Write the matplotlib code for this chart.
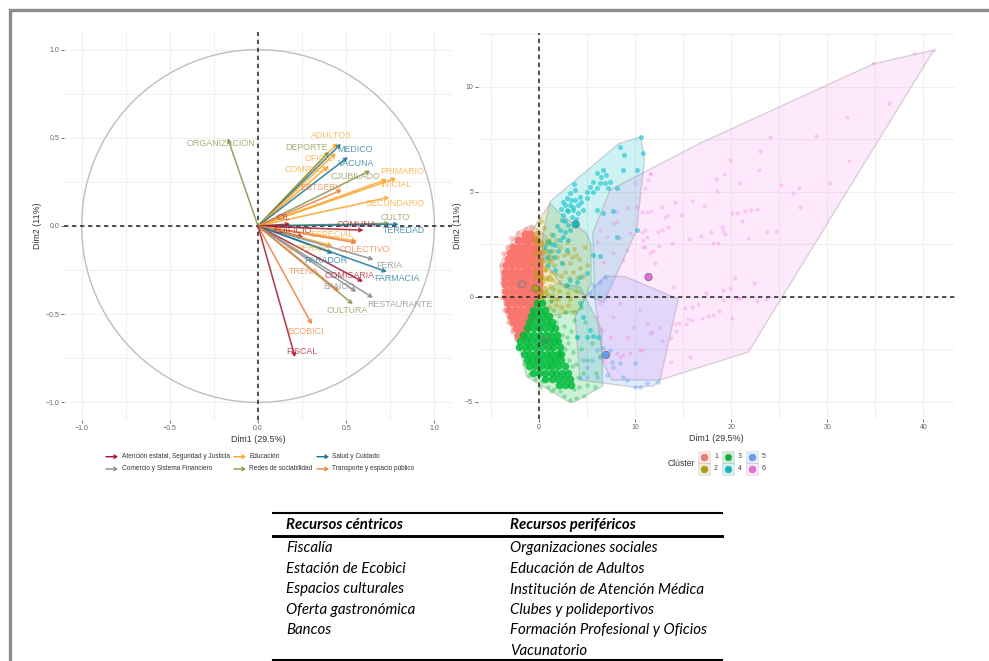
import matplotlib
matplotlib.use('Agg')
import matplotlib.pyplot as plt
from matplotlib.patches import Circle, Polygon, Rectangle

plt.rcParams['font.family'] = ['Liberation Sans', 'DejaVu Sans']

# Variables PCA: nombre, punta de flecha, posicion de etiqueta, grupo
names = ['ORGANIZACION', 'ADULTOS', 'DEPORTE', 'MEDICO', 'OFICIO', 'COMPLEM', 'VACUNA', 'CJUBILADO',
         'PRIMARIO', 'INICIAL', 'ESTSERV', 'SECUNDARIO', 'CULTO', 'TEREDAD', 'COMUNA', 'CIL', 'EDIFICIO',
         'ESPECIAL', 'COLECTIVO', 'SUPERIOR', 'PARADOR', 'FERIA', 'FARMACIA', 'COMISARIA', 'BANCO',
         'RESTAURANTE', 'CULTURA', 'TRENA', 'ECOBICI', 'FISCAL']
tip_x = [-.172, .451, .403, .47, .441, .40, .51, .636, .784, .731, .475, .744, .746, .797, .598, .182, .257,
         .56, .56, .422, .424, .655, .731, .595, .557, .652, .538, .46, .305, .21]
tip_y = [.498, .47, .422, .466, .413, .34, .39, .314, .271, .265, .205, .163, .015, .01, -.024, .011, -.064,
         -.085, -.095, -.112, -.155, -.19, -.26, -.316, -.373, -.407, -.443, -.37, -.557, -.743]
lab_x = [-.21, .415, .273, .551, .352, .278, .557, .551, .818, .784, .358, .78, .78, .83, .557, .142, .193,
         .42, .602, .28, .386, .744, .79, .517, .46, .807, .506, .261, .267, .25]
lab_y = [.466, .511, .443, .432, .381, .318, .352, .278, .307, .233, .216, .125, .051, -.023, .009, .051, -.028,
         -.051, -.131, -.125, -.193, -.222, -.295, -.278, -.341, -.443, -.477, -.256, -.597, -.71]
groups = [4, 2, 4, 5, 2, 2, 5, 4, 2, 2, 6, 2, 4, 5, 1, 1, 1, 2, 6, 2, 5, 3, 5, 1, 3, 3, 4, 6, 6, 1]
group_names = ['Atención estatal, Seguridad y Justicia', 'Educación', 'Comercio y Sistema Financiero',
               'Redes de sociabilidad', 'Salud y Cuidado', 'Transporte y espacio público']
group_colors = {1: '#A8172B', 2: '#F9A62B', 3: '#8A8A8A', 4: '#84994A', 5: '#1B7699', 6: '#EC7F3F'}

# Clusters
cl_colors = ['#F8766D', '#B79F00', '#00BA38', '#00BFC4', '#619CFF', '#F564E3']
cent_x = [-1.74, -.38, .69, 3.82, 6.98, 11.4]
cent_y = [.6, .41, -2.1, 3.46, -2.76, .95]

hull1 = [(-4.06, 1.52), (-3.54, -.7), (-2.33, -2.13), (-.24, -.3), (.8, 2.87), (-.76, 3.43), (-2.15, 3.11), (-3.19, 2.4)]
hull2 = [(1.15, 4.46), (2.19, 3.98), (4.97, 3.03), (5.42, 2.48), (5.42, .65), (4.27, -.62), (.8, -.94), (-1.28, -.3),
         (-1.46, 1.6), (-.94, 3.03), (.1, 3.75)]
hull3 = [(-2.15, -2.2), (-1.28, -3.79), (3.23, -5.02), (3.75, -4.98), (6.63, -4.24), (6.53, -1.57), (4.97, -.14),
         (4.27, .49), (1.84, .65), (-.94, -.3)]
hull4 = [(1.15, 4.54), (8.26, 7.29), (10.6, 7.63), (10.97, 6.52), (10.17, 3.19), (6.77, -.25), (2.5, .5), (.3, 1.8), (.4, 3.0)]
hull5 = [(3.75, -.94), (4.27, -3.95), (10, -4.3), (11.9, -4.24), (12.6, -3.95), (14.5, -.1), (8.96, .97), (6.88, 1.0), (4.8, 0)]
hull6 = [(41.1, 11.76), (34.8, 11.1), (16.8, 7.33), (7.4, 5.1), (5.6, 3.05), (5.8, 0), (6.67, -3.14), (7.6, -3.95),
         (12.6, -3.95), (21.8, -2.62)]

# nube densa del cluster 1, por filas (y, [x...])
red_rows = [(3.0, [-1.5, -.9]), (2.7, [-2.2, -1.6, -1, -.4]), (2.4, [-2.7, -2.1, -1.5, -.9, -.3]),
            (2.1, [-3, -2.4, -1.8, -1.2, -.6, -.1]), (1.8, [-3.2, -2.6, -2, -1.4, -.8, -.2]),
            (1.5, [-3.4, -2.8, -2.2, -1.6, -1, -.4, 0]), (1.2, [-3.5, -2.9, -2.3, -1.7, -1.1, -.5, 0]),
            (.9, [-3.5, -2.9, -2.3, -1.7, -1.1, -.5, 0]), (.6, [-3.5, -2.9, -2.3, -1.7, -1.1, -.5, 0]),
            (.3, [-3.4, -2.8, -2.2, -1.6, -1, -.4, 0]), (0, [-3.4, -2.8, -2.2, -1.6, -1, -.4]),
            (-.3, [-3.2, -2.6, -2, -1.4, -.8, -.3]), (-.6, [-3.1, -2.5, -1.9, -1.3, -.7]),
            (-.9, [-2.9, -2.3, -1.7, -1.1, -.7]), (-1.2, [-2.7, -2.1, -1.5, -1.1]),
            (-1.5, [-2.4, -1.8, -1.4]), (-1.8, [-2.2, -1.8])]
red_edge = [(-3.9, 1.5), (-3.7, 2.1), (-3.3, 2.4), (-2.9, 2.8), (-2.2, 3.05), (-1.4, 3.25), (-.8, 3.3), (-3.9, .7), (-3.8, 0),
            (-3.6, -.6), (-3.2, -1.2), (-2.8, -1.6), (.2, 2.6), (.4, 1.8), (.3, 1), (-2.4, -2), (-.5, -.9), (-3.7, 1.1), (-3.7, .3)]
orange_core = [(-.2, 3), (.1, 2.5), (-.3, 2.1), (.2, 1.7), (-.2, 1.2), (.3, .8), (-.2, .4), (.2, 0), (-.3, -.3), (.5, 2.2),
               (.6, 1.4), (.5, .4), (-.1, 2.7), (.1, 1), (.1, .1), (.9, 2.6), (1, 1.9), (1, .9)]
orange_pts = [(1, 2.7), (1.5, 2.2), (2.2, 2.4), (3, 2.1), (3.6, 2.3), (.9, 1.7), (1.6, 1.5), (2.4, 1.6), (3.2, 1.6), (4.2, 1.8),
              (.8, .9), (1.5, .8), (2.3, 1), (3.1, .9), (4, .9), (.7, .2), (1.4, .1), (2.1, .3), (3, .2), (3.8, .3), (1, -.5),
              (1.8, -.4), (2.6, -.7), (3.4, -.7), (.5, 3.3), (.2, 3.6), (4.8, 2.4), (5, 1.5), (4.6, 1), (-.6, 2.7), (.9, 2.2),
              (1.2, 1.2), (1.9, 1.9), (2.7, 1.2), (.6, 1.3), (1.1, .5), (2, -.1), (3.5, 1.2), (-.7, 1.6), (-.5, .9),
              (1.3, 3), (1.8, 2.7), (2.6, 2), (1.3, 1.7), (1.8, 1.1), (2.1, .7), (2.8, .5), (1.5, .4), (3.4, 1.9), (2.9, 2.6),
              (1.2, -.2), (2.3, -.5), (3, -.4), (.9, .1), (4.3, 1.4), (3.9, 2), (3.2, -.1), (1.7, -.1)]
green_rows = [(-.3, [-.2, .3]), (-.6, [-.6, 0, .6]), (-.9, [-.8, -.2, .4, 1]), (-1.2, [-1, -.4, .2, .8, 1.4]),
              (-1.5, [-1.2, -.6, 0, .6, 1.2, 1.7]), (-1.8, [-1.7, -1.1, -.5, .1, .7, 1.3, 1.9]),
              (-2.1, [-2, -1.4, -.8, -.2, .4, 1, 1.6, 2]), (-2.4, [-2.1, -1.5, -.9, -.3, .3, .9, 1.5, 2.2]),
              (-2.7, [-1.6, -1, -.4, .2, .8, 1.4, 2, 2.3]), (-3, [-1.3, -.7, -.1, .5, 1.1, 1.7, 2.3]),
              (-3.3, [-1, -.4, .2, .8, 1.4, 2, 2.7]), (-3.6, [-.6, 0, .6, 1.2, 1.8, 2.4, 3]),
              (-3.9, [.6, 1.4, 2, 2.6, 3.2]), (-4.2, [2.1, 2.7, 3.3])]
green_pts = [(-1.6, -3.2), (-1, -3.7), (.3, -4), (.9, -4.3), (1.6, -4.4), (2.2, -4.5), (3.2, -4.9), (3.8, -4.8), (4.2, -4.3),
             (4.6, -3.6), (3.9, -3.2), (3.5, -2.6), (3, -2.2), (3.3, -1.6), (2.6, -1.4), (2.1, -.9), (2.8, -.7), (1.5, -.6),
             (3.6, -1.1), (4, -1.9), (4.4, -2.5), (5, -3), (5.5, -2.2), (4.8, -1.2), (5.9, -3.6), (6.3, -2.8), (5, -4.2),
             (5.8, -4.3), (4.1, -3.8), (3.4, -3.3), (2.9, -1.9), (3.7, -.7), (4.4, -.5), (1.3, -.2), (.4, -.2), (2.4, -1.8),
             (2.7, -2.5), (3.1, -3), (1.8, -1.2), (.1, -4.3), (1.2, -4.5), (-.4, -3.9), (3.6, -4.4), (4.7, -4.7), (2.6, -4.7)]
cyan_pts = [(10.6, 7.6), (10.87, 6.84), (8.85, 6.76), (8.44, 7.16), (10.17, 6.05), (8.78, 6.05), (6.7, 6.05), (6, 5.89), (7.4, 5.49),
            (6.88, 5.41), (6.35, 5.41), (5.66, 5.49), (5.31, 5.25), (8.09, 5.17), (7.22, 5.17), (6, 5.17), (4.97, 5.02),
            (3.75, 5.1), (4.27, 4.78), (3.23, 4.94), (2.88, 4.7), (3.75, 4.62), (2.53, 4.54), (3.23, 4.38), (4.1, 4.38),
            (3.58, 4.14), (2.88, 4.14), (4.1, 3.98), (2.53, 3.9), (3.4, 3.83), (2.36, 3.67), (3.06, 3.43), (2.19, 3.19),
            (1.49, 2.95), (.97, 2.63), (.63, 2.4), (1.67, 2.48), (2.53, 2.87), (4.62, 4.14), (6, 4.14), (7.74, 4.11), (6.7, 3.98),
            (10.17, 3.19), (8.09, 2.87), (5.66, 2), (6.35, 1.95), (4.27, .97), (3.23, .81), (2.88, .57), (4.97, 1.13),
            (3.92, .73), (2.36, 1.6), (2.88, 2.24), (.8, 1.92), (1.67, 1.29), (4.97, -1.89), (5.66, -1.86), (6.18, -1.89),
            (3.92, -1.89), (4.62, -.94), (5.31, -1.57), (4.27, -.3), (3, 4.1), (3.3, 4.6), (2.7, 3.6), (3.2, 3.2), (2.7, 3.1),
            (1.9, 3.4), (2.2, 2.7), (1.4, 2.5), (1.1, 2.2), (2, 2.2), (3.5, 4.3), (2.3, 4.2), (2.7, 4.4), (4.4, 4.5), (5, 4.7),
            (5.6, 5), (6.5, 5.7), (7, 5.8), (3.8, 3.7), (1.6, 1.9), (.9, 1.5), (3.6, 5.4), (3, 2.7)]
blue_pts = [(10, -4.27), (10.52, -4.27), (12.43, -4.03), (8.78, -3.79), (7.74, -3.32), (9.13, -3.95), (7.05, -3.71), (6, -3.79),
            (4.97, -3.79), (4.27, -3.87), (4.97, -3.32), (5.49, -3), (6, -2.52), (6.7, -2.44), (7.4, -2.52), (6.35, -2.84),
            (7.57, -3.08), (8.44, -3.16), (10, -3.16), (4.62, -3), (6.88, .97), (5.66, .57), (6.35, .73), (5.31, .17), (11.2, -4.08)]
pink_pts = [(41.08, 11.76), (38.99, 11.6), (34.76, 11.13), (36.46, 9.22), (32.05, 8.56), (32.29, 6.46), (28.82, 7.68), (24.06, 7.6),
            (23.02, 6.95), (19.9, 6.52), (22.85, 6.05), (19.27, 5.86), (18.44, 5.6), (20.94, 5.44), (18.51, 5.05), (25.2, 5.33),
            (30.31, 5.41), (27.08, 5.17), (26.42, 4.94), (27.19, 4.3), (15.97, 4.57), (14.17, 4.51), (17.22, 4.33), (12.78, 4.3),
            (14.76, 3.92), (20.07, 3.98), (20.59, 4.02), (21.46, 4.08), (22.05, 4.14), (22.74, 4.19), (21.11, 3.63), (19.03, 3.35),
            (19.2, 3.16), (19.37, 3.0), (17.88, 3.08), (16.87, 2.89), (15.66, 2.78), (23.71, 3.08), (24.65, 3.16), (21.8, 2.81),
            (18.16, 2.56), (18.68, 2.56), (13.89, 2.59), (13.47, 3.35), (12.78, 3.19), (12.43, 3.11), (13.12, 3.83), (13.47, 3.9),
            (11.21, 4.06), (11.67, 4.1), (10.69, 4.03), (11.04, 3.19), (10.69, 3.08), (11.21, 2.87), (10.87, 2.71), (11.04, 2.37),
            (12.5, 2.43), (11.91, 2.21), (11.56, 2.08), (12.08, 1.6), (11.63, 5.84), (11.39, 5.57), (11.04, 5.17), (20.42, .89),
            (22.33, .65), (19.9, .41), (19.2, .33), (13.99, .49), (17.36, .17), (20.94, -.03), (20.59, -.06), (22.74, -.17),
            (23.64, -.11), (19.2, -.14), (16.6, -.33), (15.9, -.46), (15.21, -.54), (18.78, -.65), (18.16, -.84), (17.57, -.91),
            (16.94, -.98), (15.9, -1.1), (15.55, -1.06), (20.07, -1.02), (14.62, -1.22), (14.17, -1.29), (14.24, -1.6), (15.31, -1.29),
            (13.71, -1.97), (15.73, -2.87), (13.71, -3.11), (12.78, -2.08), (12.6, -1.49), (11.74, -1.65), (10.69, -2.52),
            (11.56, 5.89), (10, 5.41), (9.13, 4.22), (10.17, 4.3), (8.09, 4.06), (7.74, 3.5), (8.09, 3.59), (6.35, 3.19), (7.05, 2.87),
            (8.44, 2.79), (9.48, 3.03), (7.74, 2.08), (9.13, 2.24), (10.87, 2.4), (6, 2.63), (6.7, 1.68), (8.78, 1.76), (6.35, -.3),
            (7.74, -.94), (9.83, -1.41), (11.56, -1.73), (9.48, -2.68), (8.78, -2.76), (10.52, -2.52), (8.44, -2.84), (8.09, -2.68),
            (6.7, -3), (6.53, -1.57), (9.13, -1.89), (7.4, -1.89), (11.2, -1.25), (6, -.94), (8.44, -.3), (10.5, -.62)]

# Tabla
col1 = ['Fiscalía', 'Estación de Ecobici', 'Espacios culturales', 'Oferta gastronómica', 'Bancos']
col2 = ['Organizaciones sociales', 'Educación de Adultos', 'Institución de Atención Médica', 'Clubes y polideportivos',
        'Formación Profesional y Oficios', 'Vacunatorio']

W, H = 989, 661
fig = plt.figure(figsize=(W / 100, H / 100), dpi=100)


def panel(x0, x1, y0, y1):
    ax = fig.add_axes([x0 / W, 1 - y1 / H, (x1 - x0) / W, (y1 - y0) / H])
    for s in ax.spines.values():
        s.set_visible(False)
    ax.tick_params(labelsize=5, length=2, width=.6, color='#555555', labelcolor='#666666', pad=1.5)
    ax.grid(True, which='both', color='#F0F0F0', lw=.8)
    ax.set_axisbelow(True)
    return ax


# Panel izquierdo
ax1 = panel(64, 452, 32, 420)
ax1.set_xlim(-1.1, 1.1)
ax1.set_ylim(-1.1, 1.1)
ax1.set_xticks([-1, -.5, 0, .5, 1])
ax1.set_yticks([-1, -.5, 0, .5, 1])
ax1.set_xticks([-.75, -.25, .25, .75], minor=True)
ax1.set_yticks([-.75, -.25, .25, .75], minor=True)
ax1.tick_params(which='minor', length=0)
ax1.add_patch(Circle((0, 0), 1, fill=False, ec='#BEBEBE', lw=1))
ax1.axhline(0, color='#333333', lw=1.2, dashes=(2.6, 2.2))
ax1.axvline(0, color='#333333', lw=1.2, dashes=(2.6, 2.2))
for i, n in enumerate(names):
    c = group_colors[groups[i]]
    ax1.annotate('', xy=(tip_x[i], tip_y[i]), xytext=(0, 0),
                 arrowprops=dict(arrowstyle='->,head_length=.22,head_width=.12', color=c, lw=1.15, alpha=.85,
                                 shrinkA=0, shrinkB=0))
for i, n in enumerate(names):
    ax1.text(lab_x[i], lab_y[i], n, color=group_colors[groups[i]], fontsize=6.4, alpha=.75, ha='center', va='center')
ax1.set_xlabel('Dim1 (29.5%)', fontsize=6.4, color='#333333', labelpad=2)
ax1.set_ylabel('Dim2 (11%)', fontsize=6.4, color='#333333', labelpad=2)

# Panel derecho
ax2 = panel(478, 955, 33, 419)
ax2.set_xlim(-6.35, 43.3)
ax2.set_ylim(-5.81, 12.57)
ax2.set_xticks([0, 10, 20, 30, 40])
ax2.set_yticks([-5, 0, 5, 10])
ax2.set_xticks([-5, 5, 15, 25, 35], minor=True)
ax2.set_yticks([-2.5, 2.5, 7.5, 12.5], minor=True)
ax2.tick_params(which='minor', length=0)

hulls = [hull1, hull2, hull3, hull4, hull5, hull6]
hull_alpha = [.2, .2, .2, .2, .2, .14]
for h, c, a in zip(hulls, cl_colors, hull_alpha):
    ax2.add_patch(Polygon(h, closed=True, fc=matplotlib.colors.to_rgba(c, a), ec=(.5, .5, .5, .3), lw=1))


def pts(lst, color, size, alpha):
    ax2.scatter([p[0] for p in lst], [p[1] for p in lst], s=size, color=color, alpha=alpha, linewidths=0)


def rows(lst, color, size, alpha):
    pts([(x, r[0]) for r in lst for x in r[1]], color, size, alpha)


pts(red_edge, cl_colors[0], 14, .4)
rows(red_rows, cl_colors[0], 34, 1)
pts(orange_core, cl_colors[1], 26, .5)
pts(orange_pts, cl_colors[1], 12, .4)
pts(green_pts, cl_colors[2], 10, .35)
rows(green_rows, cl_colors[2], 30, .85)
pts(cyan_pts, cl_colors[3], 13, .55)
pts(blue_pts, cl_colors[4], 11, .4)
pts(pink_pts, cl_colors[5], 8, .28)
ax2.axhline(0, color='#333333', lw=1.2, dashes=(2.6, 2.2))
ax2.axvline(0, color='#333333', lw=1.2, dashes=(2.6, 2.2))
ax2.scatter(cent_x, cent_y, s=26, c=cl_colors, edgecolors='#808080', linewidths=.8, zorder=5)
ax2.set_xlabel('Dim1 (29.5%)', fontsize=6.4, color='#333333', labelpad=2)
ax2.set_ylabel('Dim2 (11%)', fontsize=6.4, color='#333333', labelpad=2)

# Capa en pixeles para marco, leyendas y tabla
ov = fig.add_axes([0, 0, 1, 1], zorder=10)
ov.set_xlim(0, W)
ov.set_ylim(H, 0)
ov.axis('off')
ov.patch.set_alpha(0)
ov.plot([9.5, 9.5, W], [H, 9.5, 9.5], color='#8C8C8C', lw=2.4, solid_joinstyle='miter')

key_x = [106, 234, 317, 106, 234, 317]
key_y = [456.7, 456.7, 456.7, 469, 469, 469]
order = [1, 2, 5, 3, 4, 6]
for kx, ky, g in zip(key_x, key_y, order):
    ov.annotate('', xy=(kx + 12, ky), xytext=(kx, ky),
                arrowprops=dict(arrowstyle='->,head_length=.2,head_width=.12', color=group_colors[g], lw=1,
                                shrinkA=0, shrinkB=0))
    ov.text(kx + (16 if kx == 106 else 15), ky, group_names[g - 1], fontsize=4.7, color='#333333', va='center')

ov.text(668, 463, 'Clúster', fontsize=6.2, color='#333333', va='center')
sq_x = [704, 704, 728, 728, 752, 752]
sq_y = [456.7, 469, 456.7, 469, 456.7, 469]
for i in range(6):
    ov.add_patch(Rectangle((sq_x[i] - 6, sq_y[i] - 6), 12, 12, fc=matplotlib.colors.to_rgba(cl_colors[i], .2),
                           ec=(.5, .5, .5, .15), lw=.6))
    ov.scatter([sq_x[i]], [sq_y[i]], s=22, color=cl_colors[i], edgecolors='#808080', linewidths=.4)
    ov.text(sq_x[i] + 12, sq_y[i], str(i + 1), fontsize=5, color='#444444', va='center', ha='center')

ov.plot([273, 722], [513, 513], color='black', lw=1.5)
ov.plot([273, 722], [536, 536], color='black', lw=2.1)
ov.plot([273, 722], [660, 660], color='black', lw=1.5)
table_font = ['Lato', 'DejaVu Sans']
ov.text(286, 525, 'Recursos céntricos', fontsize=10.8, style='italic', weight='bold', family=table_font, va='center', color='black')
ov.text(510, 525, 'Recursos periféricos', fontsize=10.8, style='italic', weight='bold', family=table_font, va='center', color='black')
row_y = [548, 569, 589.5, 610, 630, 651]
for t, y in zip(col1, row_y):
    ov.text(286, y, t, fontsize=10.8, style='italic', family=table_font, va='center', color='black')
for t, y in zip(col2, row_y):
    ov.text(510, y, t, fontsize=10.8, style='italic', family=table_font, va='center', color='black')

fig.savefig('out.png', dpi=100)
